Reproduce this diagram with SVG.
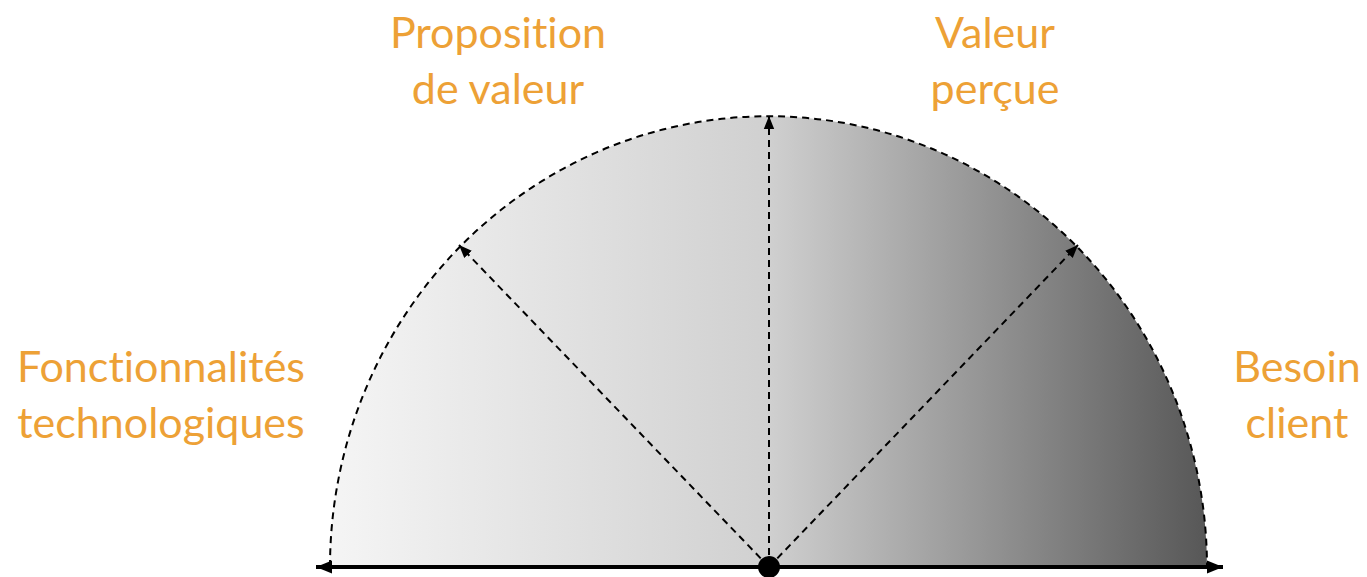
<svg xmlns="http://www.w3.org/2000/svg" width="1367" height="577" viewBox="0 0 1367 577">
<style>
.lbl{font-family:Lato,"Open Sans",sans-serif;font-size:43px;fill:#EDA136;text-anchor:middle;font-variant-ligatures:none}
.dash{fill:none;stroke:#000;stroke-width:2;stroke-dasharray:7,5}
</style>
<defs>
<linearGradient id="g" x1="330" y1="0" x2="1207" y2="0" gradientUnits="userSpaceOnUse">
<stop offset="0" stop-color="#f5f5f5"/>
<stop offset="0.5" stop-color="#d0d0d0"/>
<stop offset="1" stop-color="#575757"/>
</linearGradient>
<marker id="ah" viewBox="0 0 10 10" refX="10" refY="5" markerWidth="13" markerHeight="13" markerUnits="userSpaceOnUse" orient="auto"><path d="M0,1L10,5L0,9z" fill="#000"/></marker>
<marker id="ab" viewBox="0 0 10 10" refX="10" refY="5" markerWidth="16" markerHeight="16" markerUnits="userSpaceOnUse" orient="auto"><path d="M0,1L10,5L0,9z" fill="#000"/></marker>
</defs>
<g id="semicircle">
<path d="M330,567 A438.5,451 0 0 1 1207,567 Z" fill="url(#g)"/>
<path d="M330,567 A438.5,451 0 0 1 1207,567" class="dash"/>
</g>
<g id="connectors">
<line x1="769" y1="567" x2="769" y2="116" class="dash" marker-end="url(#ah)"/>
<line x1="769" y1="567" x2="459" y2="245" class="dash" marker-end="url(#ah)"/>
<line x1="769" y1="567" x2="1078" y2="245" class="dash" marker-end="url(#ah)"/>
<line x1="769" y1="567" x2="1223" y2="567" stroke="#000" stroke-width="4" marker-end="url(#ab)"/>
<line x1="769" y1="567" x2="316" y2="567" stroke="#000" stroke-width="4" marker-end="url(#ab)"/>
</g>
<g id="center"><circle cx="769" cy="567" r="11" fill="#000"/></g>
<g id="n-tech"><text class="lbl" x="161" y="382">Fonctionnalités</text><text class="lbl" x="161" y="438">technologiques</text></g>
<g id="n-prop"><text class="lbl" x="498" y="48">Proposition</text><text class="lbl" x="498" y="104">de valeur</text></g>
<g id="n-val"><text class="lbl" x="995" y="48">Valeur</text><text class="lbl" x="995" y="104">perçue</text></g>
<g id="n-besoin"><text class="lbl" x="1297" y="382">Besoin</text><text class="lbl" x="1297" y="438">client</text></g>
</svg>
